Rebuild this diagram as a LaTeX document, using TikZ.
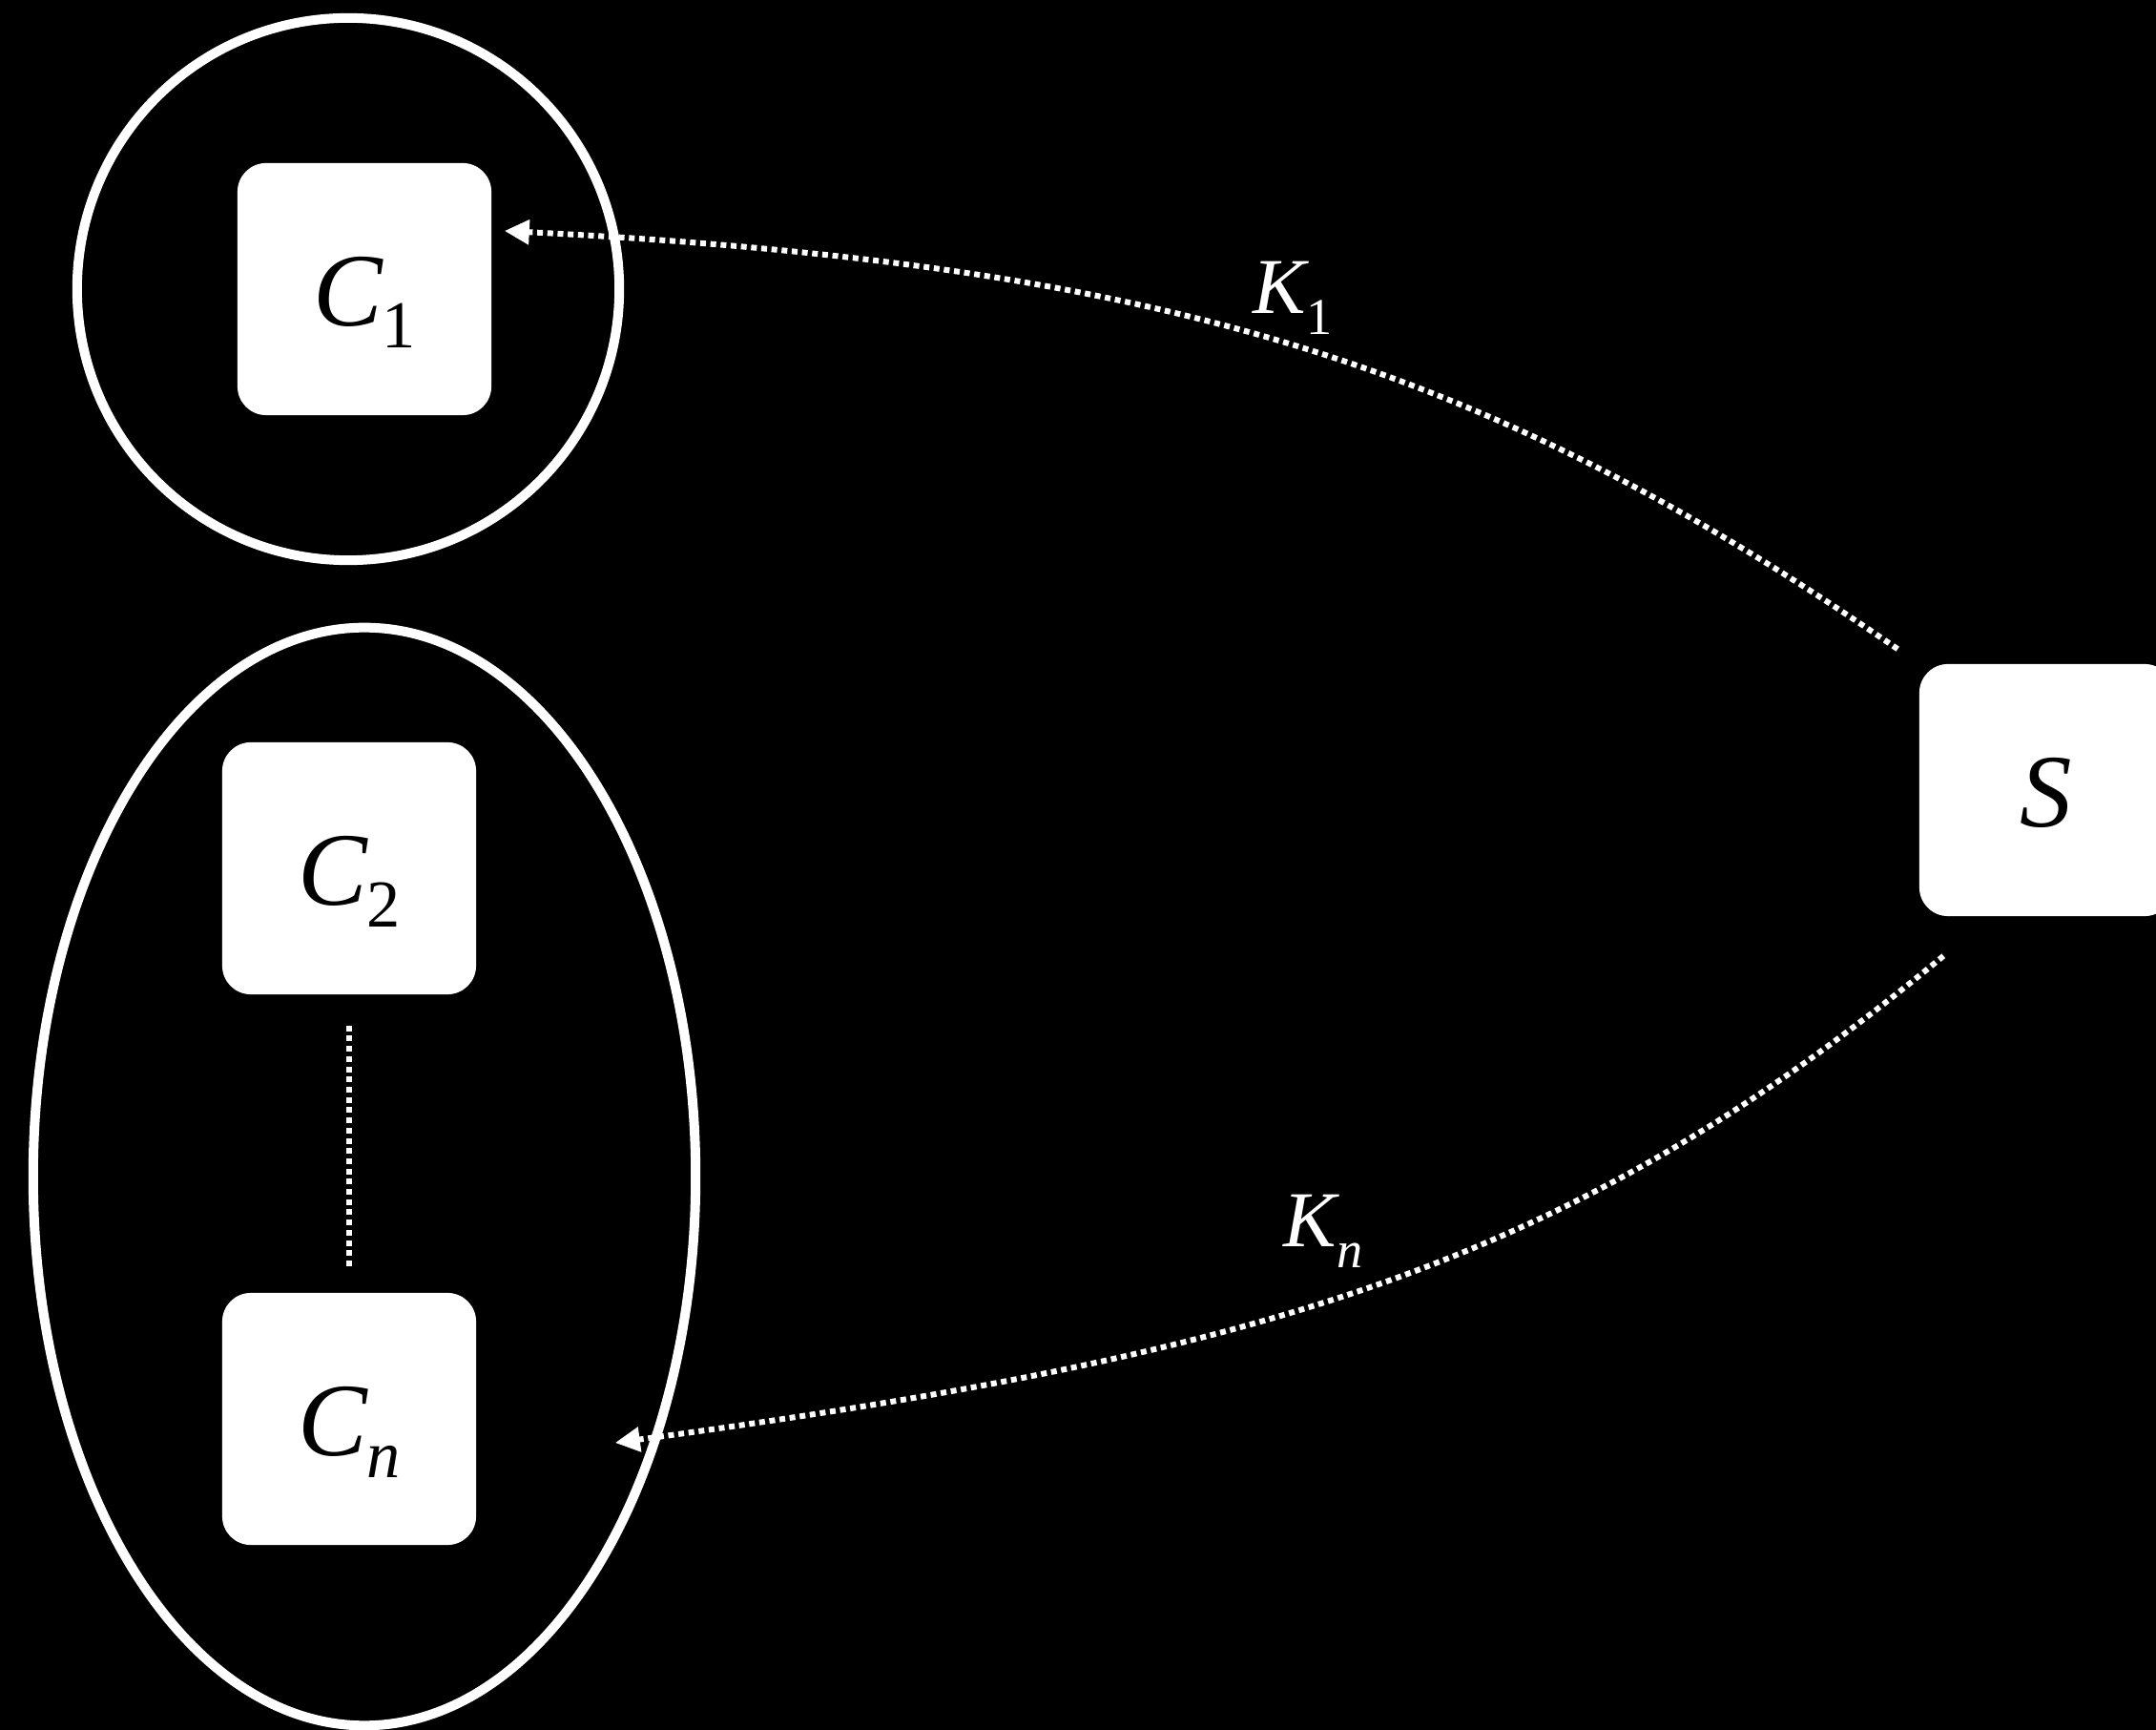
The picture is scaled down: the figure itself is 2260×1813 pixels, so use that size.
\documentclass[tikz,border=0pt]{standalone}
\usepackage{fontspec}
\setmainfont{Liberation Serif}
\usetikzlibrary{arrows.meta,calc}

% label with a subscript, as set inside the white boxes
\newcommand\boxlbl[2]{{\fontsize{31pt}{31pt}\selectfont\itshape #1}\raisebox{-6.8pt}{\fontsize{20pt}{20pt}\selectfont #2}}
% label with a subscript, as set beside the key arrows
\newcommand\keylbl[2]{{\fontsize{23.6pt}{23.6pt}\selectfont\itshape #1}\raisebox{-6.2pt}{\fontsize{15.4pt}{15.4pt}\selectfont #2}}

\begin{document}
\begin{tikzpicture}[x=0.01cm,y=-0.01cm,
  party/.style={fill=white,draw=none,rounded corners=0.3cm,inner sep=0pt,
    minimum width=2.66cm,minimum height=2.64cm,text=black,
    text height=0.76cm,text depth=0cm},
  group/.style={draw=white,line width=0.1cm},
  link/.style={draw=white,line width=0.06cm,line cap=butt,
    dash pattern=on 0.06cm off 0.047cm,
    -{Triangle[length=0.26cm,width=0.25cm,fill=white]}},
  dotline/.style={draw=white,line width=0.06cm,line cap=butt,
    dash pattern=on 0.06cm off 0.047cm},
  keytext/.style={text=white,inner sep=0pt}]

  % black canvas
  \fill[black] (0,0) rectangle (2260,1813);
  \useasboundingbox (0,0) rectangle (2260,1813);

  % groups of clients
  \draw[group] (365,303) circle[radius=2.84cm];
  \draw[group] (382,1233) ellipse[x radius=3.47cm,y radius=5.75cm];

  % clients and server
  \node[party] (C1) at (382,303) {\boxlbl{C}{1}};
  \node[party] (C2) at (366,910) {\boxlbl{C}{2}};
  \node[party] (Cn) at (366,1487) {\boxlbl{C}{\itshape n}};
  \node[party] (S)  at (2145,828) {\fontsize{31pt}{31pt}\selectfont\itshape S};

  % ellipsis between the second and the last client
  \draw[dotline] ($(C2.south)+(0,32)$) -- ($(Cn.north)+(0,-26)$);

  % key distribution
  \coordinate (s1) at ($(S.north west)+(-22,-15)$);
  \coordinate (c1) at ($(C1.east)+(13,-61)$);
  \coordinate (s2) at ($(S.south west)+(26,41)$);
  \coordinate (cn) at ($(Cn.east)+(145,25)$);

  \draw[link] (s1) .. controls (1562,386) and (1228,277) .. (c1);
  \draw[link] (s2) .. controls (1651,1321) and (1338,1418) .. (cn);

  \node[keytext] (K1) at (1355,312) {\keylbl{K}{1}};
  \node[keytext] (Kn) at (1387,1290) {\keylbl{K}{\itshape n}};
\end{tikzpicture}
\end{document}
